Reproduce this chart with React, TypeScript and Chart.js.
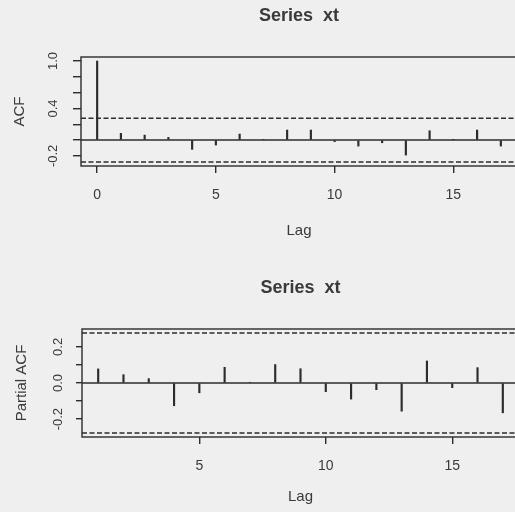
import React, { useEffect, useRef } from "react";
import { Chart, registerables } from "chart.js";

Chart.register(...registerables);

// ---------- data ----------
const CHART_TITLE = "Series  xt";
const X_TITLE = "Lag";
const ACF_Y_TITLE = "ACF";
const PACF_Y_TITLE = "Partial ACF";

const ACF_LAGS = [0, 1, 2, 3, 4, 5, 6, 7, 8, 9, 10, 11, 12, 13, 14, 15, 16, 17];
const ACF_VALUES = [1.0, 0.085, 0.063, 0.034, -0.118, -0.063, 0.076, 0.008, 0.127, 0.127, -0.02, -0.076, -0.034, -0.19, 0.118, 0.005, 0.127, -0.076];

const PACF_LAGS = [1, 2, 3, 4, 5, 6, 7, 8, 9, 10, 11, 12, 13, 14, 15, 16, 17];
const PACF_VALUES = [0.078, 0.046, 0.024, -0.126, -0.054, 0.087, 0.004, 0.102, 0.079, -0.048, -0.089, -0.037, -0.156, 0.122, -0.026, 0.085, -0.165];

const CI_BOUND = 0.277;

const ACF_X_TICKS = [0, 5, 10, 15];
const ACF_X_TICK_LABELS = ["0", "5", "10", "15"];
const ACF_Y_TICKS = [-0.2, 0, 0.2, 0.4, 0.6, 0.8, 1.0];
const ACF_Y_TICK_LABELS = ["-0.2", "", "", "0.4", "", "", "1.0"];
const ACF_X_RANGE = [-0.68, 17.68];
const ACF_Y_RANGE = [-0.328, 1.051];

const PACF_X_TICKS = [5, 10, 15];
const PACF_X_TICK_LABELS = ["5", "10", "15"];
const PACF_Y_TICKS = [-0.2, -0.1, 0, 0.1, 0.2];
const PACF_Y_TICK_LABELS = ["-0.2", "", "0.0", "", "0.2"];
const PACF_X_RANGE = [0.36, 17.64];
const PACF_Y_RANGE = [-0.299, 0.299];

// ---------- style ----------
const FONT_FAMILY = "'Liberation Sans', Arial, Helvetica, sans-serif";
const INK = "#2c2c2c";
const TEXT = "#3a3a3a";
const PAPER = "#efefef";
const CANVAS_W = 540;
const TITLE_SIZE = 18;
const AXIS_TITLE_SIZE = 15;
const X_TICK_SIZE = 14;
const Y_TICK_SIZE = 13;

type Panel = {
  top: number;
  height: number;
  left: number;
  right: number;
  plotTop: number;
  plotBottom: number;
  titleY: number;
  xTickLen: number;
  xLabelY: number;
  lagY: number;
  yTickLen: number;
  yLabelX: number;
  yTitleX: number;
};

const TOP_PANEL: Panel = {
  top: 0, height: 256, left: 81, right: 517, plotTop: 57, plotBottom: 166,
  titleY: 16.5, xTickLen: 7, xLabelY: 195, lagY: 231, yTickLen: 8, yLabelX: 53.5, yTitleX: 20,
};
const BOTTOM_PANEL: Panel = {
  top: 256, height: 256, left: 82, right: 519, plotTop: 329, plotBottom: 437,
  titleY: 288, xTickLen: 7, xLabelY: 466, lagY: 497, yTickLen: 6, yLabelX: 58.5, yTitleX: 21.5,
};

function measure(text: string, size: number) {
  const c = document.createElement("canvas").getContext("2d");
  if (!c) return 0;
  c.font = `${size}px ${FONT_FAMILY}`;
  return c.measureText(text).width;
}

const decorPlugin = {
  id: "acfDecor",
  beforeDatasetsDraw(chart: any, _args: any, opts: any) {
    const { ctx, chartArea: a, scales } = chart;
    const y = scales.y;
    ctx.save();
    ctx.strokeStyle = INK;
    ctx.lineWidth = 1.4;
    const y0 = y.getPixelForValue(0);
    ctx.beginPath();
    ctx.moveTo(a.left, y0);
    ctx.lineTo(a.right, y0);
    ctx.stroke();
    ctx.lineWidth = 1.6;
    ctx.setLineDash([5, 2.5]);
    for (const v of [opts.ci, -opts.ci]) {
      const py = y.getPixelForValue(v);
      ctx.beginPath();
      ctx.moveTo(a.left, py);
      ctx.lineTo(a.right, py);
      ctx.stroke();
    }
    ctx.setLineDash([]);
    ctx.lineWidth = 1.4;
    ctx.strokeRect(a.left, a.top, a.right - a.left, a.bottom - a.top);
    ctx.restore();
  },
};

function buildConfig(
  p: Panel,
  lags: number[],
  values: number[],
  xRange: number[],
  yRange: number[],
  xTicks: number[],
  xTickLabels: string[],
  yTicks: number[],
  yTickLabels: string[],
  yTitle: string
): any {
  const titleLH = TITLE_SIZE * 1.2;
  const axisLH = AXIS_TITLE_SIZE * 1.2;
  const xTickLH = X_TICK_SIZE * 1.2;
  const widest = Math.max(...yTickLabels.map((t) => measure(t, Y_TICK_SIZE)));
  const titlePadTop = p.titleY - p.top - titleLH / 2;
  const titlePadBottom = p.plotTop - p.top - titlePadTop - titleLH;
  const xHeight = p.top + p.height - p.plotBottom;
  const xTickPad = p.xLabelY - p.plotBottom - p.xTickLen - xTickLH / 2;
  const lagPad = p.top + p.height - p.lagY - axisLH / 2;
  const yTickPad = p.left - p.yTickLen - widest / 2 - p.yLabelX;
  const yTitlePad = p.yTitleX - axisLH / 2;

  return {
    type: "bar",
    data: {
      datasets: [
        {
          data: lags.map((l, i) => ({ x: l, y: values[i] })),
          backgroundColor: INK,
          borderWidth: 0,
          barThickness: 1.5,
        },
      ],
    },
    plugins: [decorPlugin],
    options: {
      responsive: false,
      animation: false,
      devicePixelRatio: 1,
      events: [],
      layout: { padding: { left: 0, top: 0, right: CANVAS_W - p.right, bottom: 0 } },
      plugins: {
        legend: { display: false },
        tooltip: { enabled: false },
        acfDecor: { ci: CI_BOUND },
        title: {
          display: true,
          text: CHART_TITLE,
          fullSize: false,
          color: TEXT,
          font: { family: FONT_FAMILY, size: TITLE_SIZE, weight: "bold", lineHeight: 1.2 },
          padding: { top: titlePadTop, bottom: titlePadBottom },
        },
      },
      scales: {
        x: {
          type: "linear",
          min: xRange[0],
          max: xRange[1],
          offset: false,
          afterBuildTicks: (s: any) => {
            s.ticks = xTicks.map((v) => ({ value: v }));
          },
          afterFit: (s: any) => {
            s.height = xHeight;
          },
          grid: {
            offset: false,
            drawOnChartArea: false,
            drawTicks: true,
            tickLength: p.xTickLen,
            color: INK,
            lineWidth: 1.4,
          },
          border: { display: false },
          ticks: {
            autoSkip: false,
            maxRotation: 0,
            minRotation: 0,
            padding: xTickPad,
            color: TEXT,
            font: { family: FONT_FAMILY, size: X_TICK_SIZE, lineHeight: 1.2 },
            callback: (_v: any, i: number) => xTickLabels[i],
          },
          title: {
            display: true,
            text: X_TITLE,
            color: TEXT,
            font: { family: FONT_FAMILY, size: AXIS_TITLE_SIZE, lineHeight: 1.2 },
            padding: { top: 0, bottom: lagPad },
          },
        },
        y: {
          type: "linear",
          min: yRange[0],
          max: yRange[1],
          afterBuildTicks: (s: any) => {
            s.ticks = yTicks.map((v) => ({ value: v }));
          },
          afterFit: (s: any) => {
            s.width = p.left;
          },
          grid: {
            drawOnChartArea: false,
            drawTicks: true,
            tickLength: p.yTickLen,
            color: INK,
            lineWidth: 1.4,
          },
          border: { display: false },
          ticks: {
            autoSkip: false,
            minRotation: 90,
            maxRotation: 90,
            crossAlign: "center",
            padding: yTickPad,
            color: TEXT,
            font: { family: FONT_FAMILY, size: Y_TICK_SIZE, lineHeight: 1.2 },
            callback: (_v: any, i: number) => yTickLabels[i],
          },
          title: {
            display: true,
            text: yTitle,
            color: TEXT,
            font: { family: FONT_FAMILY, size: AXIS_TITLE_SIZE, lineHeight: 1.2 },
            padding: { top: yTitlePad, bottom: 0 },
          },
        },
      },
    },
  };
}

export default function App() {
  const topRef = useRef<HTMLCanvasElement | null>(null);
  const bottomRef = useRef<HTMLCanvasElement | null>(null);

  useEffect(() => {
    if (!topRef.current || !bottomRef.current) return;
    const c1 = new Chart(
      topRef.current,
      buildConfig(TOP_PANEL, ACF_LAGS, ACF_VALUES, ACF_X_RANGE, ACF_Y_RANGE, ACF_X_TICKS, ACF_X_TICK_LABELS, ACF_Y_TICKS, ACF_Y_TICK_LABELS, ACF_Y_TITLE)
    );
    const c2 = new Chart(
      bottomRef.current,
      buildConfig(BOTTOM_PANEL, PACF_LAGS, PACF_VALUES, PACF_X_RANGE, PACF_Y_RANGE, PACF_X_TICKS, PACF_X_TICK_LABELS, PACF_Y_TICKS, PACF_Y_TICK_LABELS, PACF_Y_TITLE)
    );
    return () => {
      c1.destroy();
      c2.destroy();
    };
  }, []);

  return (
    <div
      style={{
        position: "fixed",
        left: 0,
        top: 0,
        width: 515,
        height: 512,
        overflow: "hidden",
        background: PAPER,
      }}
    >
      <canvas
        ref={topRef}
        width={CANVAS_W}
        height={TOP_PANEL.height}
        style={{ position: "absolute", left: 0, top: TOP_PANEL.top, display: "block" }}
      />
      <canvas
        ref={bottomRef}
        width={CANVAS_W}
        height={BOTTOM_PANEL.height}
        style={{ position: "absolute", left: 0, top: BOTTOM_PANEL.top, display: "block" }}
      />
    </div>
  );
}
